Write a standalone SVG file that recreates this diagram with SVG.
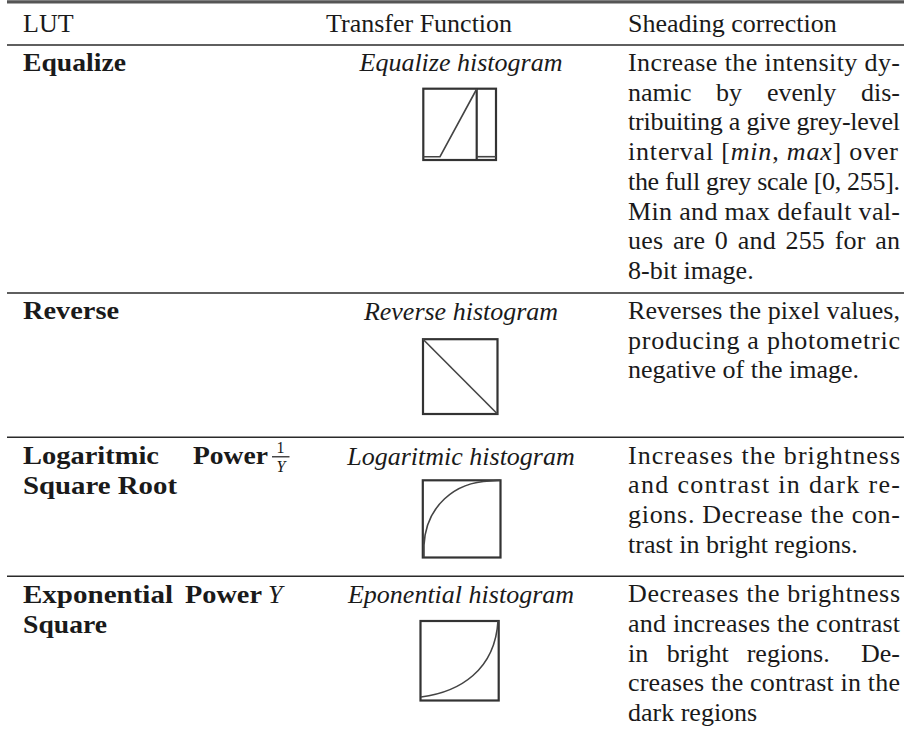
<svg xmlns="http://www.w3.org/2000/svg" width="904" height="733" viewBox="0 0 904 733">
<style>
  text { font-family: "Liberation Serif", "Times New Roman", serif; font-size: 26px; fill: #1a1a1a; }
  .b { font-weight: bold; font-size: 25px; }
  .i { font-style: italic; }
  .c { text-anchor: middle; }
  .e { text-anchor: end; }
  .s { font-size: 16px; }
  .rule { stroke: #2a2a2a; stroke-width: 1.6; fill: none; }
  .frame { stroke: #333; stroke-width: 2.2; fill: none; }
  .curve { stroke: #444; stroke-width: 1.6; fill: none; }
</style>
<rect x="0" y="0" width="904" height="733" fill="#ffffff"/>

<g id="rules">
  <line x1="7" y1="1.8" x2="904" y2="1.8" stroke="#555" stroke-width="3.2"/>
  <line class="rule" x1="7" y1="45" x2="904" y2="45"/>
  <line class="rule" x1="7" y1="293" x2="904" y2="293"/>
  <line class="rule" x1="7" y1="437.3" x2="904" y2="437.3"/>
  <line class="rule" x1="7" y1="576.3" x2="904" y2="576.3"/>
</g>

<g id="header">
  <text x="23" y="32">LUT</text>
  <text x="326" y="32">Transfer Function</text>
  <text x="628" y="32">Sheading correction</text>
</g>

<g id="row-equalize">
  <text class="b" x="23" y="71" textLength="103" lengthAdjust="spacingAndGlyphs">Equalize</text>
  <text class="i c" x="461" y="71">Equalize histogram</text>
  <g id="plot-equalize">
    <rect class="frame" x="423.3" y="88.7" width="72.7" height="71.3"/>
    <line class="frame" x1="476.7" y1="88.7" x2="476.7" y2="160"/>
    <polyline class="curve" points="423.3,156.7 440,156.7 476.7,89"/>
    <line class="curve" x1="476.7" y1="156.7" x2="496" y2="156.7"/>
  </g>
  <text x="628" y="71" textLength="272" lengthAdjust="spacing">Increase the intensity dy-</text>
  <text y="100.7"><tspan x="628">namic</tspan><tspan x="716">by</tspan><tspan x="767">evenly</tspan><tspan class="e" x="900">dis-</tspan></text>
  <text x="628" y="130.4" textLength="272" lengthAdjust="spacing">tribuiting a give grey-level</text>
  <text x="628" y="160.1" textLength="270" lengthAdjust="spacing">interval [<tspan class="i">min</tspan>, <tspan class="i">max</tspan>] over</text>
  <text x="628" y="189.8" textLength="272" lengthAdjust="spacing">the full grey scale [0, 255].</text>
  <text x="628" y="219.5" textLength="272" lengthAdjust="spacing">Min and max default val-</text>
  <text x="628" y="249.2" textLength="272" lengthAdjust="spacing" word-spacing="3">ues are 0 and 255 for an</text>
  <text x="628" y="278.9">8-bit image.</text>
</g>

<g id="row-reverse">
  <text class="b" x="23" y="319" textLength="96" lengthAdjust="spacingAndGlyphs">Reverse</text>
  <text class="i c" x="461" y="320">Reverse histogram</text>
  <g id="plot-reverse">
    <rect class="frame" x="423" y="339.2" width="74.5" height="74.8"/>
    <line class="curve" x1="423" y1="339.2" x2="497.5" y2="414"/>
  </g>
  <text x="628" y="319" textLength="272" lengthAdjust="spacing">Reverses the pixel values,</text>
  <text x="628" y="348.7" textLength="272" lengthAdjust="spacing">producing a photometric</text>
  <text x="628" y="378.4">negative of the image.</text>
</g>

<g id="row-log">
  <text class="b" x="23" y="464" textLength="136" lengthAdjust="spacingAndGlyphs">Logaritmic</text>
  <text class="b" x="193" y="464" textLength="75" lengthAdjust="spacingAndGlyphs">Power</text>
  <text x="280.5" y="453" class="c s">1</text>
  <line x1="272" y1="456.8" x2="289.5" y2="456.8" stroke="#1a1a1a" stroke-width="1.2"/>
  <text x="281" y="472" class="i c s">Y</text>
  <text class="b" x="23" y="494" textLength="154" lengthAdjust="spacingAndGlyphs">Square Root</text>
  <text class="i c" x="461" y="465">Logaritmic histogram</text>
  <g id="plot-log">
    <rect class="frame" x="422.8" y="480.3" width="77.7" height="77.2"/>
    <path class="curve" d="M424,557 L424,545 C426,506 455,482 490,481 L500,480.3"/>
  </g>
  <text x="628" y="463.5" textLength="272" lengthAdjust="spacing">Increases the brightness</text>
  <text x="628" y="493.2" textLength="272" lengthAdjust="spacing">and contrast in dark re-</text>
  <text x="628" y="522.9" textLength="272" lengthAdjust="spacing">gions. Decrease the con-</text>
  <text x="628" y="552.6">trast in bright regions.</text>
</g>

<g id="row-exp">
  <text class="b" x="23" y="603" textLength="150" lengthAdjust="spacingAndGlyphs">Exponential</text>
  <text class="b" x="185" y="603" textLength="77" lengthAdjust="spacingAndGlyphs">Power</text>
  <text class="i" x="268" y="603">Y</text>
  <text class="b" x="23" y="633" textLength="84" lengthAdjust="spacingAndGlyphs">Square</text>
  <text class="i c" x="461" y="603">Eponential histogram</text>
  <g id="plot-exp">
    <rect class="frame" x="420.5" y="621" width="78.2" height="79.5"/>
    <path class="curve" d="M421,697 C460,692 495,670 498,621"/>
  </g>
  <text x="628" y="602.3" textLength="272" lengthAdjust="spacing">Decreases the brightness</text>
  <text x="628" y="632" textLength="272" lengthAdjust="spacing">and increases the contrast</text>
  <text y="661.7"><tspan x="628">in</tspan><tspan x="666.7">bright</tspan><tspan x="746.7">regions.</tspan><tspan class="e" x="900">De-</tspan></text>
  <text x="628" y="691.4" textLength="272" lengthAdjust="spacing">creases the contrast in the</text>
  <text x="628" y="721.1">dark regions</text>
</g>
</svg>
